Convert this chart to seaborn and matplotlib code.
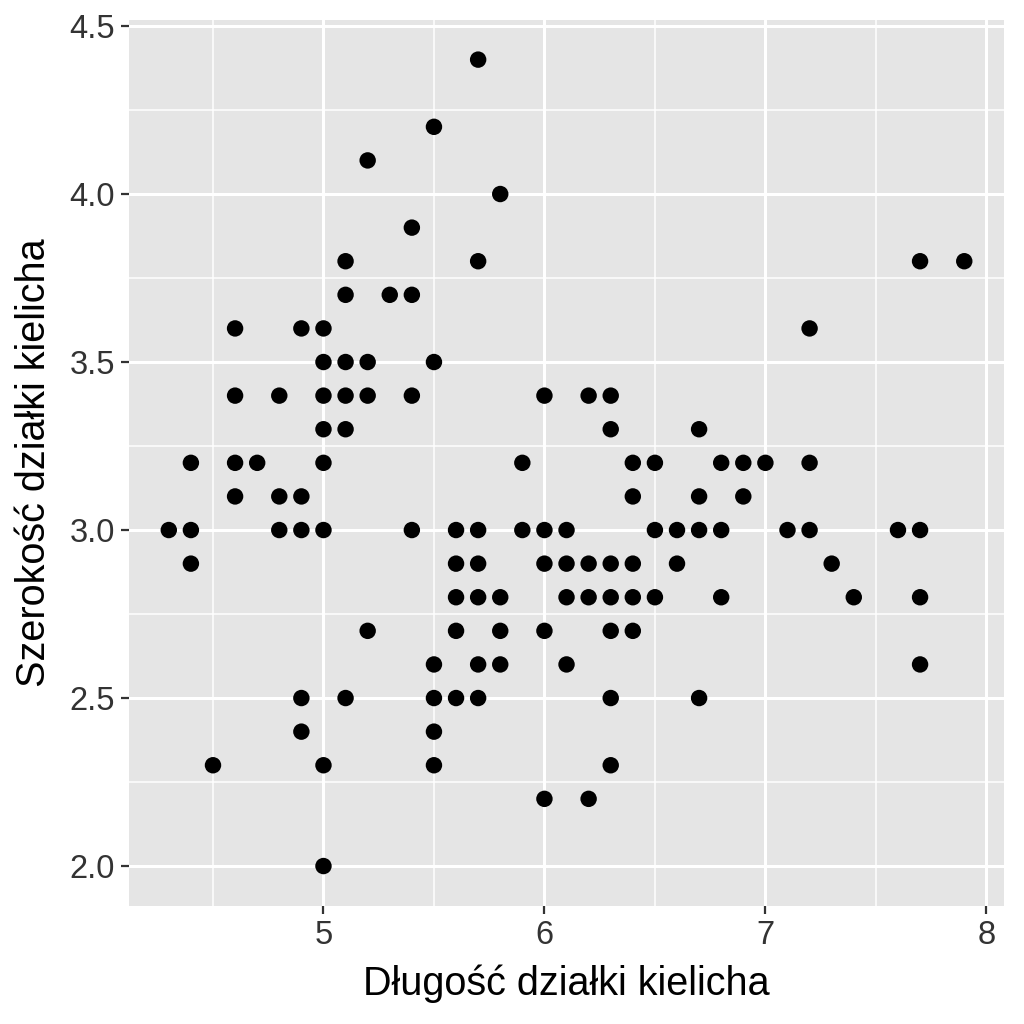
import matplotlib
matplotlib.use('Agg')
import matplotlib.pyplot as plt
from matplotlib.ticker import MultipleLocator
import seaborn as sns
import pandas as pd

# Unique (sepal length, sepal width) pairs
sepal_length = [
    4.3,
    4.4, 4.4, 4.4,
    4.5,
    4.6, 4.6, 4.6, 4.6,
    4.7,
    4.8, 4.8, 4.8,
    4.9, 4.9, 4.9, 4.9, 4.9,
    5.0, 5.0, 5.0, 5.0, 5.0, 5.0, 5.0, 5.0,
    5.1, 5.1, 5.1, 5.1, 5.1, 5.1,
    5.2, 5.2, 5.2, 5.2,
    5.3,
    5.4, 5.4, 5.4, 5.4,
    5.5, 5.5, 5.5, 5.5, 5.5, 5.5,
    5.6, 5.6, 5.6, 5.6, 5.6,
    5.7, 5.7, 5.7, 5.7, 5.7, 5.7, 5.7,
    5.8, 5.8, 5.8, 5.8,
    5.9, 5.9,
    6.0, 6.0, 6.0, 6.0, 6.0,
    6.1, 6.1, 6.1, 6.1,
    6.2, 6.2, 6.2, 6.2,
    6.3, 6.3, 6.3, 6.3, 6.3, 6.3, 6.3,
    6.4, 6.4, 6.4, 6.4, 6.4,
    6.5, 6.5, 6.5,
    6.6, 6.6,
    6.7, 6.7, 6.7, 6.7,
    6.8, 6.8, 6.8,
    6.9, 6.9,
    7.0,
    7.1,
    7.2, 7.2, 7.2,
    7.3,
    7.4,
    7.6,
    7.7, 7.7, 7.7, 7.7,
    7.9,
]
sepal_width = [
    3.0,
    3.2, 3.0, 2.9,
    2.3,
    3.6, 3.4, 3.2, 3.1,
    3.2,
    3.4, 3.1, 3.0,
    3.6, 3.1, 3.0, 2.5, 2.4,
    3.6, 3.5, 3.4, 3.3, 3.2, 3.0, 2.3, 2.0,
    3.8, 3.7, 3.5, 3.4, 3.3, 2.5,
    4.1, 3.5, 3.4, 2.7,
    3.7,
    3.9, 3.7, 3.4, 3.0,
    4.2, 3.5, 2.6, 2.5, 2.4, 2.3,
    3.0, 2.9, 2.8, 2.7, 2.5,
    4.4, 3.8, 3.0, 2.9, 2.8, 2.6, 2.5,
    4.0, 2.8, 2.7, 2.6,
    3.2, 3.0,
    3.4, 3.0, 2.9, 2.7, 2.2,
    3.0, 2.9, 2.8, 2.6,
    3.4, 2.9, 2.8, 2.2,
    3.4, 3.3, 2.9, 2.8, 2.7, 2.5, 2.3,
    3.2, 3.1, 2.9, 2.8, 2.7,
    3.2, 3.0, 2.8,
    3.0, 2.9,
    3.3, 3.1, 3.0, 2.5,
    3.2, 3.0, 2.8,
    3.2, 3.1,
    3.2,
    3.0,
    3.6, 3.2, 3.0,
    2.9,
    2.8,
    3.0,
    3.8, 3.0, 2.8, 2.6,
    3.8,
]

df = pd.DataFrame({'Sepal.Length': sepal_length, 'Sepal.Width': sepal_width})

sns.set_theme(style='darkgrid', rc={
    'axes.facecolor': '#E5E5E5',
    'grid.color': 'white',
    'axes.edgecolor': 'none',
})
plt.rcParams['font.family'] = ['Liberation Sans', 'DejaVu Sans']

fig = plt.figure(figsize=(10.24, 10.24), dpi=100)
ax = fig.add_axes([0.126, 0.1152, 0.8545, 0.8653])

sns.scatterplot(data=df, x='Sepal.Length', y='Sepal.Width', ax=ax,
                color='black', s=140, edgecolor='none', linewidth=0, zorder=3)

ax.set_xlim(4.12, 8.08)
ax.set_ylim(1.881, 4.518)
ax.xaxis.set_minor_locator(MultipleLocator(0.5))
ax.yaxis.set_minor_locator(MultipleLocator(0.25))
ax.set_yticks([2.0, 2.5, 3.0, 3.5, 4.0, 4.5])
ax.set_yticklabels(['2.0', '2.5', '3.0', '3.5', '4.0', '4.5'])
ax.set_xticks([5, 6, 7, 8])
ax.set_xticklabels(['5', '6', '7', '8'])

ax.grid(which='major', color='white', linewidth=2.2)
ax.grid(which='minor', color='white', linewidth=1.1)
ax.set_axisbelow(True)

ax.tick_params(axis='both', which='major', length=6, width=1.6, color='#333333',
               labelsize=23.5, labelcolor='#333333', pad=4, bottom=True, left=True)
ax.tick_params(axis='both', which='minor', length=0)

ax.set_xlabel('Długość działki kielicha', fontsize=28.5, color='black', labelpad=10)
ax.set_ylabel('Szerokość działki kielicha', fontsize=28.5, color='black', labelpad=12)

for sp in ax.spines.values():
    sp.set_visible(False)

fig.savefig('out.png', dpi=100, facecolor='white')
